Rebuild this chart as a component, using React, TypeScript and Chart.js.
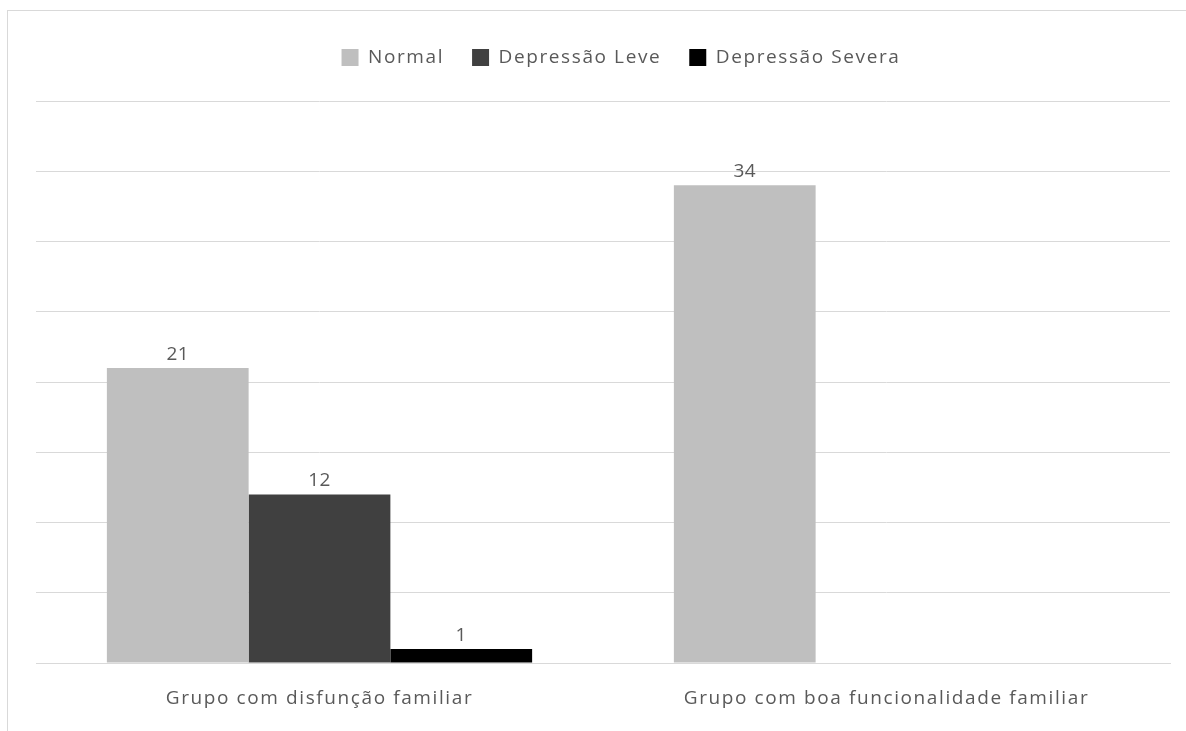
import React, { useEffect, useRef } from "react";
import { Chart, registerables } from "chart.js";

Chart.register(...registerables);

const categories = ["Grupo com disfunção familiar", "Grupo com boa funcionalidade familiar"];
const seriesNames = ["Normal", "Depressão Leve", "Depressão Severa"];
const normalValues: (number | null)[] = [21, 34];
const leveValues: (number | null)[] = [12, null];
const severaValues: (number | null)[] = [1, null];
const seriesColors = ["#bfbfbf", "#404040", "#000000"];
const yMax = 40;
const yStep = 5;

const FONT = "'Open Sans', 'Noto Sans', sans-serif";
const TEXT = "#595959";
const SPACING = "1.6px";

const textSpacing = {
  id: "textSpacing",
  beforeUpdate(chart: any) {
    (chart.ctx as any).letterSpacing = SPACING;
  },
  beforeLayout(chart: any) {
    (chart.ctx as any).letterSpacing = SPACING;
  },
  beforeDraw(chart: any) {
    (chart.ctx as any).letterSpacing = SPACING;
  },
};

const dataLabels = {
  id: "dataLabels",
  afterDatasetsDraw(chart: any) {
    const ctx = chart.ctx;
    ctx.save();
    (ctx as any).letterSpacing = "0.5px";
    ctx.font = `19px ${FONT}`;
    ctx.fillStyle = TEXT;
    ctx.textAlign = "center";
    ctx.textBaseline = "bottom";
    chart.data.datasets.forEach((ds: any, i: number) => {
      const meta = chart.getDatasetMeta(i);
      meta.data.forEach((el: any, j: number) => {
        const v = ds.data[j];
        if (v === null || v === undefined) return;
        ctx.fillText(String(v), el.x, el.y - 4);
      });
    });
    ctx.restore();
  },
};

const legendGap = {
  id: "legendGap",
  beforeInit(chart: any) {
    const legend = chart.legend;
    if (!legend) return;
    const origFit = legend.fit;
    legend.fit = function () {
      origFit.call(this);
      this.height += 24;
    };
  },
  afterLayout(chart: any) {
    const legend = chart.legend;
    if (!legend) return;
    legend.left += 18;
    legend.right += 18;
  },
};

export default function App() {
  const ref = useRef<HTMLCanvasElement | null>(null);
  useEffect(() => {
    if (!ref.current) return;
    const chart = new Chart(ref.current, {
      type: "bar",
      data: {
        labels: categories,
        datasets: [
          { label: seriesNames[0], data: normalValues, backgroundColor: seriesColors[0] },
          { label: seriesNames[1], data: leveValues, backgroundColor: seriesColors[1] },
          { label: seriesNames[2], data: severaValues, backgroundColor: seriesColors[2] },
        ],
      },
      options: {
        responsive: false,
        animation: false,
        datasets: { bar: { barPercentage: 1, categoryPercentage: 0.75 } },
        layout: { padding: { left: 28, right: 16, top: 9, bottom: 0 } },
        plugins: {
          legend: {
            position: "top",
            labels: {
              boxWidth: 17,
              boxHeight: 17,
              padding: 28,
              color: TEXT,
              font: { family: FONT, size: 19 },
            },
          },
          tooltip: { enabled: false },
        },
        scales: {
          x: {
            grid: { display: false, drawTicks: false },
            border: { display: true, color: "#d9d9d9", width: 1 },
            ticks: { color: TEXT, font: { family: FONT, size: 19 }, padding: 24 },
            afterFit(scale: any) {
              scale.height = 68;
            },
          },
          y: {
            min: 0,
            max: yMax,
            grid: { color: "#d9d9d9", lineWidth: 1, drawTicks: false },
            border: { display: false },
            ticks: { display: false, stepSize: yStep },
          },
        },
      },
      plugins: [textSpacing, dataLabels, legendGap],
    });
    return () => chart.destroy();
  }, []);
  return (
    <div
      style={{
        position: "fixed",
        left: 7,
        top: 10,
        width: 1179,
        height: 721,
        borderLeft: "1px solid #d9d9d9",
        borderTop: "1px solid #d9d9d9",
        boxSizing: "border-box",
        background: "#fff",
      }}
    >
      <canvas ref={ref} width={1178} height={720} style={{ display: "block" }} />
    </div>
  );
}
